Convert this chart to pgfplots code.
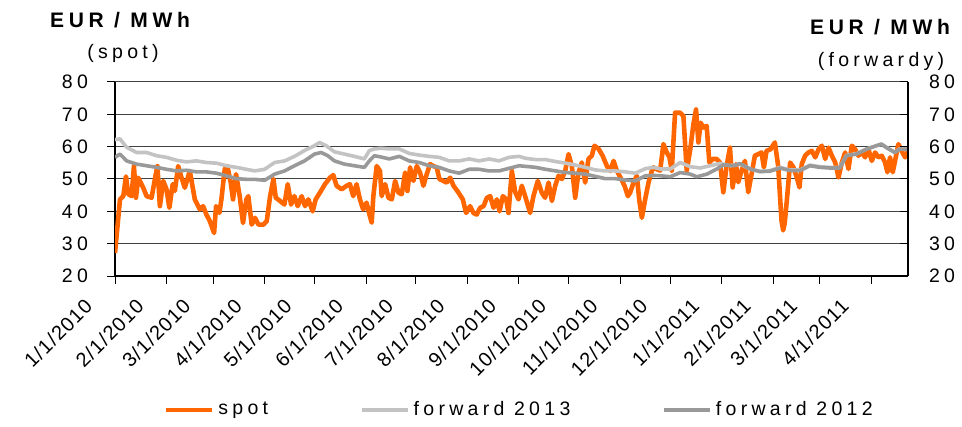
\documentclass[border=0pt]{standalone}
\usepackage{pgfplots}
\pgfplotsset{compat=1.18}
\usepackage{fontspec}
\setmainfont{Liberation Sans}
\newfontfamily\spacedfont[LetterSpace=22]{Liberation Sans}
\newfontfamily\xlabfont[LetterSpace=6]{Liberation Sans}
\definecolor{spotc}{HTML}{FF6600}
\definecolor{f13}{HTML}{C3C3C3}
\definecolor{f12}{HTML}{999999}
\tikzset{xlab/.style={rotate=45, anchor=east, inner sep=0pt, font=\xlabfont\fontsize{10}{11}\selectfont}}
\begin{document}
\begin{tikzpicture}
\useasboundingbox (-57.5pt,-75.5pt) rectangle (423.5pt,138pt);
\begin{axis}[
  scale only axis, width=396.5pt, height=97pt,
  xmin=0, xmax=477, ymin=20, ymax=80,
  axis x line*=bottom, axis y line*=left,
  axis line style={black, line width=0.6pt},
  ytick={20,30,...,80},
  xtick={0,31,59,90,120,151,181,212,243,273,304,334,365,396,424,455},
  xticklabels={},
  tick align=outside, major tick length=4pt,
  tick style={black, line width=0.5pt},
  ymajorgrids, grid style={black!75, line width=0.5pt},
  /pgf/number format/assume math mode=true,
  yticklabel style={font=\spacedfont\fontsize{9.75}{11}\selectfont, xshift=-6pt},
  legend columns=3,
  legend style={draw=none, fill=none, font=\spacedfont\fontsize{9.75}{11}\selectfont,
    at={(0.511,-0.69)}, anchor=center,
    /tikz/every even column/.append style={column sep=44pt}},
  legend image code/.code={\draw[#1] (0pt,0pt) -- (23pt,0pt);},
  every axis plot/.append style={line join=round, no markers},
]
\coordinate (t1) at (axis cs:0,20);
\coordinate (t2) at (axis cs:31,20);
\coordinate (t3) at (axis cs:59,20);
\coordinate (t4) at (axis cs:90,20);
\coordinate (t5) at (axis cs:120,20);
\coordinate (t6) at (axis cs:151,20);
\coordinate (t7) at (axis cs:181,20);
\coordinate (t8) at (axis cs:212,20);
\coordinate (t9) at (axis cs:243,20);
\coordinate (t10) at (axis cs:273,20);
\coordinate (t11) at (axis cs:304,20);
\coordinate (t12) at (axis cs:334,20);
\coordinate (t13) at (axis cs:365,20);
\coordinate (t14) at (axis cs:396,20);
\coordinate (t15) at (axis cs:424,20);
\coordinate (t16) at (axis cs:455,20);
\addplot[spotc, line width=2.3pt] coordinates {
(0,27.1)(3,43.7)(5,44.7)(6.6,50.8)(8,45.3)(10,44.7)(11.4,54)(12.6,44.2)(14,50.4)(17,47.3)
(19,44.7)(22,44.2)(24,50)(25.5,54)(27,41.6)(29,49.4)(31,46.8)(32.7,41.1)(34.7,48.4)(36,46.3)
(38,54)(40,50.4)(42,47.3)(45,52.5)(48,43.7)(51,40.6)(53,41.6)(55,39)(57,37)(59.6,33.3)
(60.8,41.6)(62.8,39.5)(64,43.7)(66,53)(67.6,54)(69.6,48.9)(71,43.7)(72.8,51.5)(75,44.7)(77,36.4)
(79,43.7)(80.2,44.7)(82.2,35.9)(84.2,38)(86.3,35.9)(89.3,35.9)(91.3,37)(93.3,44.7)(95.3,50)(96.7,44.2)
(99.3,43.2)(101.9,42.1)(103.9,48.4)(105.9,42.1)(107.9,44.7)(109.9,41.6)(112.3,44.7)(114.3,41.6)(116.3,43.7)(118.9,40)
(120.7,43.7)(123.3,45.8)(126.3,48.4)(129.3,50.4)(131.3,51.2)(133.3,47.9)(136.3,46.8)(139.3,47.9)(141.3,48.4)(143.3,44.7)
(145.3,48.4)(147.3,43.7)(149.3,40.6)(151.3,42.7)(152.8,39.5)(154.4,36.5)(155.4,44.7)(157.4,54)(159.4,52.5)(160.4,44.7)
(162.5,48.4)(164.5,44.2)(166.5,43.7)(168.5,49.4)(170.5,45.8)(172.5,45.3)(174.5,52)(175.9,46.3)(177.5,53.6)(179.5,49.4)
(181.5,54)(183.5,52)(185.5,47.9)(187.5,51.5)(189.5,54.6)(191.5,54)(193.5,53.6)(195.1,50)(197.5,49.4)(199.5,48.9)
(201.6,50.4)(203.6,47.9)(206.6,45.8)(209.2,43.7)(211.2,39.5)(213.6,41.6)(215.6,39.5)(217.6,39)(219.6,41.1)(221.7,41.6)
(223.7,44.2)(225.7,44.7)(227.7,41.1)(229.7,43.7)(231.3,40)(233.3,44.7)(235.3,43.7)(236.7,39.5)(238.7,52.5)(240.7,46)
(242.7,43.7)(244.7,47.9)(246.7,44.7)(249.7,39.5)(251.7,44.7)(254.3,49.4)(256.7,45.8)(258.7,44.2)(260.8,48.9)(262.8,43.2)
(264.8,47.9)(266.8,51)(268.8,50)(270.8,52.5)(272.8,57.7)(274.8,54)(276.8,44.2)(278.8,52)(280.8,55.1)(282.8,48.9)
(284.8,56.2)(286.8,57.2)(288.4,60.3)(290.9,59.3)(293.3,57.2)(295.9,54)(297.9,52.5)(299.9,55.6)(301.9,52.5)(304.5,50)
(306.5,47.9)(308.5,44.7)(309.9,45.8)(311.9,48.9)(313.9,51)(315.3,43.7)(316.9,38)(318.9,43.7)(320.9,48.9)(322.9,52.5)
(323.9,53.6)(325.9,53)(327.9,52.6)(329.9,60.8)(331.9,58.2)(333.5,56.7)(334.9,52.6)(336.9,70.5)(339.9,70.5)(341.9,69.5)
(343.9,52.6)(345.9,58.7)(347.9,66.9)(349.5,71.5)(350.9,61.3)(352.3,67.4)(353.9,65.9)(355.9,66.4)(357.5,55.1)(359.5,56.2)
(361.9,56.2)(363.9,55.1)(365.9,45.9)(367.9,54.1)(369.9,59.7)(371.5,47.4)(373.5,54.6)(374.9,49)(376.9,52.6)(378.9,55.6)
(380.9,45.9)(382.9,51.5)(384.9,57.2)(386.9,57.7)(388.9,58.2)(390.3,53.6)(391.9,58.7)(394.3,59.2)(396.9,61.3)(398.9,54.1)
(400.9,37.2)(401.9,34.1)(402.8,36.2)(404.1,43.3)(406.1,55.1)(408.1,53.6)(410.1,50.5)(411.7,47.4)(413.1,54.6)(415.1,57.2)
(417.1,58.2)(419.1,58.7)(421.2,56.7)(423.2,59.2)(425.2,60.3)(427.2,56.2)(429.2,59.7)(431.2,57.2)(433.2,55.1)(435.2,50.5)
(437.2,55.1)(439.2,58.2)(441.2,53.1)(443.2,60.3)(445.2,59.2)(447.2,57.2)(449.2,58.2)(451.2,56.7)(453.2,59.2)(455.2,55.6)
(457.2,58.2)(459.2,56.7)(461.2,57.2)(463.2,55.1)(464.6,52.1)(466.2,56.7)(467.8,52.1)(469.2,55.6)(471.2,60.8)(473.2,58.7)
(475.2,56.7)(477,58.7)
};
\addlegendentry{spot}
\addplot[f13, line width=1.8pt] coordinates {
(0,62.2)(3,62.4)(7,59.8)(13,58.2)(19,58.2)(25,57.2)(31,56.7)(37,55.8)(43,55.3)(49,55.6)
(55,55.1)(61,54.9)(67,54.1)(73,53.6)(79,53)(84,52.5)(90,53)(96,55.1)(102,55.6)(108,57)
(114,58.8)(120,60.3)(123,61.3)(127,60.3)(132,58.4)(138,57.7)(144,57)(150,56.2)(153,58.8)(156,59.3)
(160,59.5)(165,59.3)(171,59.3)(177,57.9)(183,57.4)(189,57)(195,56.7)(201,55.6)(207,55.6)(213,56.2)
(219,55.6)(225,56.2)(231,55.6)(237,56.7)(243,57)(247,56.4)(253,56)(259,56)(265,55.4)(271,54.9)
(277,54.3)(283,53.6)(289,52.8)(295,52.5)(301,52.5)(307,52.2)(313,51.8)(319,53.2)(324,53.6)(328,53.1)
(334,53.1)(340,55.1)(346,53.8)(352,53.4)(358,54.1)(364,54.8)(370,54.1)(376,54.6)(382,53.1)(388,52.3)
(394,52.6)(400,53.6)(406,52.8)(412,52.8)(418,54.3)(424,53.8)(430,53.6)(436,53.6)(440,57.3)(446,57.8)
(452,59.3)(458,60.3)(461,60.8)(464,59.8)(469,58.3)(472,59.3)(477,59.3)
};
\addlegendentry{forward 2013}
\addplot[f12, line width=1.8pt] coordinates {
(0,56.7)(3,57.7)(7,55.6)(13,54.6)(19,54.1)(25,53.6)(31,53)(37,52.5)(43,52.7)(49,52.2)
(55,52.2)(61,51.8)(67,51)(73,50.1)(79,49.9)(84,49.9)(90,49.6)(96,51.5)(102,52.5)(108,54.1)
(114,55.6)(120,57.7)(124,58.2)(128,57.2)(132,55.6)(138,54.6)(144,54.1)(150,53.6)(153,55.6)(156,57.2)
(160,56.8)(165,56.2)(171,57)(177,55.6)(183,55.1)(189,54.1)(195,53.6)(201,52.5)(207,51.8)(213,53)
(219,53)(225,52.5)(231,52.5)(237,53.3)(243,54.1)(247,53.9)(253,53.6)(259,53)(265,52.5)(271,52)
(277,51.8)(283,51.5)(289,50.8)(295,50.1)(301,50.1)(307,49.7)(313,49.4)(319,51)(324,51.1)(328,51)
(334,50.7)(340,52)(346,51.5)(350,50.7)(356,51.5)(362,53.1)(366,54.4)(372,54.1)(376,54.8)(382,53.1)
(388,52.3)(394,52.4)(400,53.4)(406,52.6)(412,52.6)(418,54.1)(424,53.6)(430,53.4)(436,53.4)(440,57.2)
(446,57.7)(452,59.2)(458,60.3)(461,60.8)(464,59.7)(469,58.2)(472,59.2)(477,59.2)
};
\addlegendentry{forward 2012}
\end{axis}
\begin{axis}[
  scale only axis, width=396.5pt, height=97pt,
  xmin=0, xmax=477, ymin=20, ymax=80,
  axis x line=none, axis y line*=right,
  axis line style={black, line width=0.6pt},
  ytick={20,30,...,80},
  tick align=inside, major tick length=4pt,
  tick style={black, line width=0.5pt},
  /pgf/number format/assume math mode=true,
  yticklabel style={font=\spacedfont\fontsize{9.75}{11}\selectfont, xshift=7pt},
]
\addplot[draw=none] coordinates {(0,50)};
\end{axis}
\node[xlab] at ([xshift=-13.1pt,yshift=-13.2pt]t1) {1/1/2010};
\node[xlab] at ([xshift=-13.1pt,yshift=-13.2pt]t2) {2/1/2010};
\node[xlab] at ([xshift=-13.1pt,yshift=-13.2pt]t3) {3/1/2010};
\node[xlab] at ([xshift=-13.1pt,yshift=-13.2pt]t4) {4/1/2010};
\node[xlab] at ([xshift=-13.1pt,yshift=-13.2pt]t5) {5/1/2010};
\node[xlab] at ([xshift=-13.1pt,yshift=-13.2pt]t6) {6/1/2010};
\node[xlab] at ([xshift=-13.1pt,yshift=-13.2pt]t7) {7/1/2010};
\node[xlab] at ([xshift=-13.1pt,yshift=-13.2pt]t8) {8/1/2010};
\node[xlab] at ([xshift=-13.1pt,yshift=-13.2pt]t9) {9/1/2010};
\node[xlab] at ([xshift=-13.1pt,yshift=-13.2pt]t10) {10/1/2010};
\node[xlab] at ([xshift=-13.1pt,yshift=-13.2pt]t11) {11/1/2010};
\node[xlab] at ([xshift=-13.1pt,yshift=-13.2pt]t12) {12/1/2010};
\node[xlab] at ([xshift=-13.1pt,yshift=-13.2pt]t13) {1/1/2011};
\node[xlab] at ([xshift=-13.1pt,yshift=-13.2pt]t14) {2/1/2011};
\node[xlab] at ([xshift=-13.1pt,yshift=-13.2pt]t15) {3/1/2011};
\node[xlab] at ([xshift=-13.1pt,yshift=-13.2pt]t16) {4/1/2011};
\node[font=\spacedfont\bfseries\fontsize{10.5}{12}\selectfont] at ([xshift=2.5pt,yshift=30.75pt]current axis.north west) {EUR / MWh};
\node[font=\spacedfont\fontsize{9.75}{11}\selectfont] at ([xshift=4pt,yshift=14.5pt]current axis.north west) {(spot)};
\node[font=\spacedfont\bfseries\fontsize{10.5}{12}\selectfont] at ([xshift=-14pt,yshift=27.25pt]current axis.north east) {EUR / MWh};
\node[font=\spacedfont\fontsize{9.75}{11}\selectfont] at ([xshift=-13.5pt,yshift=10.5pt]current axis.north east) {(forwardy)};
\end{tikzpicture}
\end{document}
